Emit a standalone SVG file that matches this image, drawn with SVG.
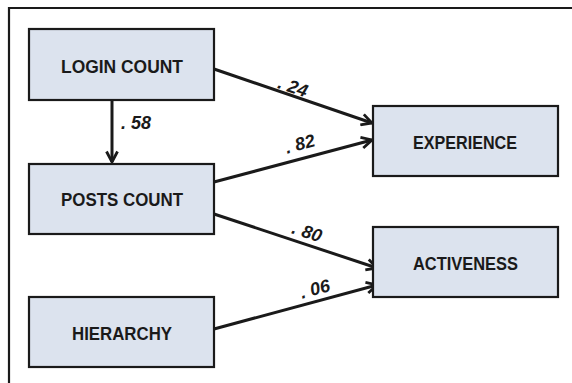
<svg xmlns="http://www.w3.org/2000/svg" width="572" height="383" viewBox="0 0 572 383">
  <defs>
    <style>
      .box { fill: #dce3ee; stroke: #1a1a1a; stroke-width: 2.2; }
      .lbl { font-family: "Liberation Sans", Arial, sans-serif; font-weight: bold; font-size: 18.5px; fill: #1a1a1a; text-anchor: middle; dominant-baseline: central; }
      .coef { font-family: "Liberation Sans", Arial, sans-serif; font-weight: bold; font-style: italic; font-size: 18px; fill: #1a1a1a; text-anchor: middle; dominant-baseline: central; }
      .edge { stroke: #1a1a1a; stroke-width: 3; fill: none; marker-end: url(#head); }
    </style>
    <marker id="head" viewBox="0 0 14 14" refX="12" refY="7" markerWidth="14" markerHeight="14" markerUnits="userSpaceOnUse" orient="auto">
      <path d="M1.5,1.5 L12,7 L1.5,12.5" fill="none" stroke="#1a1a1a" stroke-width="2.8" stroke-linejoin="miter"/>
    </marker>
  </defs>

  <rect width="572" height="383" fill="#ffffff"/>

  <!-- outer frame (top and left edges) -->
  <path d="M9,383 L9,8 L572,8" fill="none" stroke="#1a1a1a" stroke-width="2.2"/>

  <g id="connectors">
    <line class="edge" x1="112" y1="100" x2="112" y2="162"/>
    <line class="edge" x1="214" y1="69" x2="372" y2="123"/>
    <line class="edge" x1="214" y1="182" x2="372" y2="140"/>
    <line class="edge" x1="214" y1="214" x2="377" y2="268"/>
    <line class="edge" x1="214" y1="329" x2="377" y2="285"/>
    <text class="coef" x="136" y="123">. 58</text>
    <text class="coef" x="293" y="87" transform="rotate(19 293 87)">. 24</text>
    <text class="coef" x="300" y="144" transform="rotate(-15 300 144)">. 82</text>
    <text class="coef" x="307" y="232" transform="rotate(18 307 232)">. 80</text>
    <text class="coef" x="315" y="289" transform="rotate(-15 315 289)">. 06</text>
  </g>

  <g id="login-count">
    <rect class="box" x="29" y="29" width="185" height="71"/>
    <text class="lbl" x="122" y="66" textLength="122" lengthAdjust="spacingAndGlyphs">LOGIN COUNT</text>
  </g>
  <g id="posts-count">
    <rect class="box" x="29" y="164" width="185" height="70"/>
    <text class="lbl" x="122" y="199.5" textLength="122" lengthAdjust="spacingAndGlyphs">POSTS COUNT</text>
  </g>
  <g id="hierarchy">
    <rect class="box" x="29" y="297" width="185" height="70"/>
    <text class="lbl" x="122" y="333" textLength="100" lengthAdjust="spacingAndGlyphs">HIERARCHY</text>
  </g>
  <g id="experience">
    <rect class="box" x="373" y="106" width="185" height="70"/>
    <text class="lbl" x="465" y="142" textLength="104" lengthAdjust="spacingAndGlyphs">EXPERIENCE</text>
  </g>
  <g id="activeness">
    <rect class="box" x="373" y="227" width="185" height="70"/>
    <text class="lbl" x="465.5" y="263" textLength="105" lengthAdjust="spacingAndGlyphs">ACTIVENESS</text>
  </g>
</svg>
